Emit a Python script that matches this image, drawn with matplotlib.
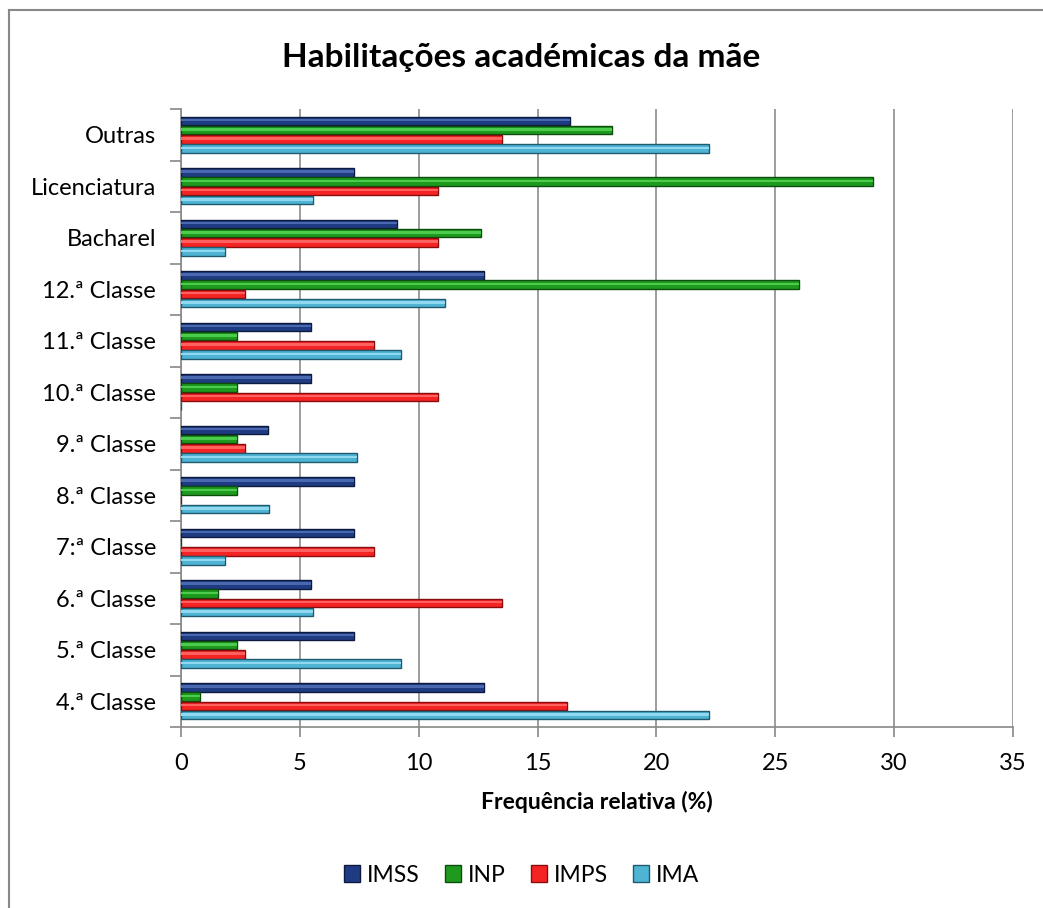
import matplotlib
matplotlib.use("Agg")
import matplotlib.pyplot as plt
from matplotlib.lines import Line2D
from matplotlib.patches import Patch
import numpy as np

plt.rcParams['font.family'] = ['Lato', 'DejaVu Sans']

categories = ["4.ª Classe", "5.ª Classe", "6.ª Classe", "7:ª Classe", "8.ª Classe",
              "9.ª Classe", "10.ª Classe", "11.ª Classe", "12.ª Classe", "Bacharel",
              "Licenciatura", "Outras"]
series_names = ["IMSS", "INP", "IMPS", "IMA"]
imss = [12.73, 7.27, 5.45, 7.27, 7.27, 3.64, 5.45, 5.45, 12.73, 9.09, 7.27, 16.36]
inp = [0.79, 2.36, 1.57, 0.0, 2.36, 2.36, 2.36, 2.36, 25.98, 12.60, 29.13, 18.11]
imps = [16.22, 2.70, 13.51, 8.11, 0.0, 2.70, 10.81, 8.11, 2.70, 10.81, 10.81, 13.51]
ima = [22.22, 9.26, 5.56, 1.85, 3.70, 7.41, 0.0, 9.26, 11.11, 1.85, 5.56, 22.22]
xticks = [0, 5, 10, 15, 20, 25, 30, 35]

face = ["#1f3c82", "#1e9a1e", "#f52424", "#4fb3d4"]
edge = ["#0d1a40", "#0d4d0d", "#8a0c0c", "#1f5a6e"]
light = ["#4a68b0", "#4ccc4c", "#ff6060", "#8fd8ef"]

W, H = 1043, 908
fig = plt.figure(figsize=(W / 100, H / 100), dpi=100)
ax = fig.add_axes([181 / W, 1 - 727 / H, (1013 - 181) / W, (727 - 109) / H])

y = np.arange(len(categories))
pitch = 0.18
bh = 0.165
data = [imss, inp, imps, ima]
for k, vals in enumerate(data):
    off = (1.5 - k) * pitch
    ax.barh(y + off, vals, height=bh, color=face[k], edgecolor=edge[k],
            linewidth=1.0, zorder=3)
    ax.barh(y + off + bh * 0.08, vals, height=bh * 0.3, color=light[k],
            linewidth=0, zorder=4)

ax.set_xlim(0, 35)
ax.set_ylim(-0.5, len(categories) - 0.5)
ax.set_xticks(xticks)
ax.set_xticklabels([str(t) for t in xticks], fontsize=17)
ax.set_yticks(y)
ax.set_yticklabels(categories, fontsize=17)
ax.set_yticks(np.arange(-0.5, len(categories), 1), minor=True)
ax.tick_params(axis='y', which='major', length=0, pad=18)
ax.tick_params(axis='y', which='minor', length=8, color="#888888", width=1.2)
ax.tick_params(axis='x', which='major', length=7, color="#888888", width=1.2, pad=12)
ax.grid(axis='x', color="#8c8c8c", linewidth=1.2, zorder=0)
ax.set_axisbelow(True)
for s in ['top', 'right']:
    ax.spines[s].set_visible(False)
for s in ['left', 'bottom']:
    ax.spines[s].set_color("#888888")
    ax.spines[s].set_linewidth(1.2)

ax.set_xlabel("Frequência relativa (%)", fontsize=16.5, fontweight='bold', labelpad=12)
fig.text(0.5, 1 - 57 / H, "Habilitações académicas da mãe", ha='center', va='center',
         fontsize=24, fontweight='bold')

handles = [Patch(facecolor=face[k], edgecolor=edge[k]) for k in range(4)]
fig.legend(handles, series_names, loc='center', bbox_to_anchor=(0.5, 1 - 875 / H),
           ncol=4, frameon=False, fontsize=16.5, handlelength=0.7, handleheight=0.7,
           handletextpad=0.3, columnspacing=1.1)

fig.add_artist(Line2D([9 / W, 9 / W], [0, 1 - 10 / H], transform=fig.transFigure,
                      color="#888888", linewidth=1.5))
fig.add_artist(Line2D([9 / W, 1], [1 - 10 / H, 1 - 10 / H], transform=fig.transFigure,
                      color="#888888", linewidth=1.5))

fig.savefig("out.png", dpi=100)
